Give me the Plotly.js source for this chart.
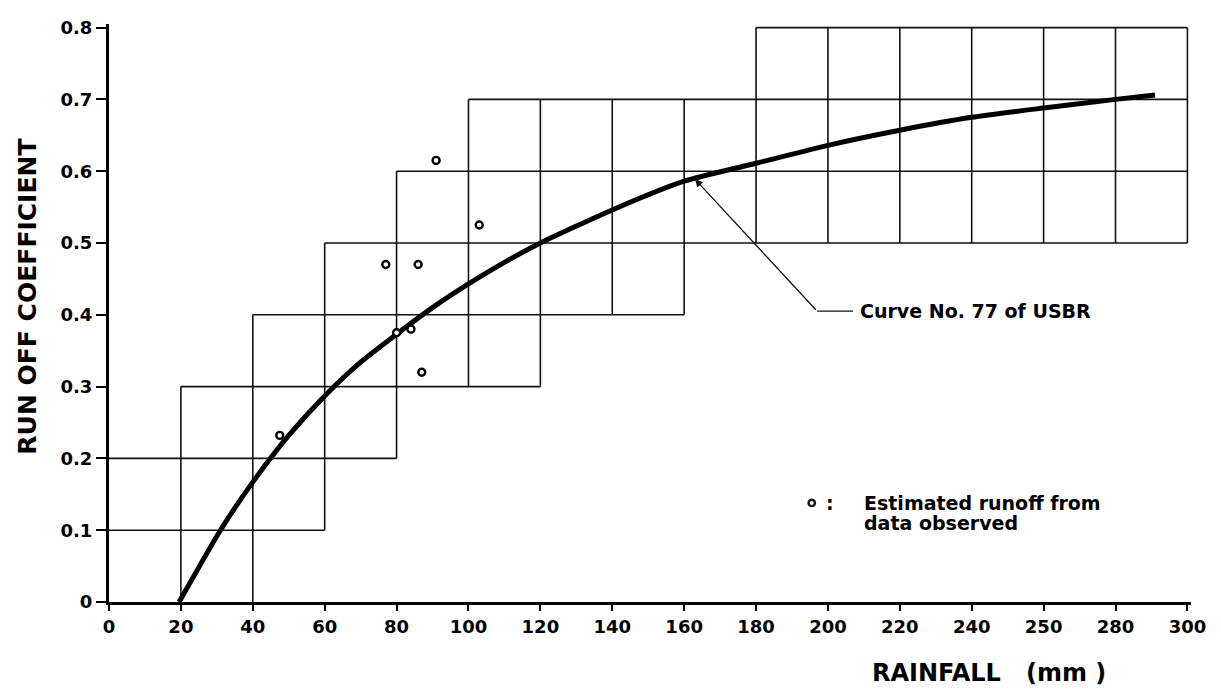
<!DOCTYPE html>
<html>
<head>
<meta charset="utf-8">
<script src="https://cdn.plot.ly/plotly-3.0.1.min.js"></script>
<style>html,body{margin:0;padding:0;background:#fff;}</style>
</head>
<body>
<div id="chart" style="width:1221px;height:695px;"></div>
<script>
// USBR curve No. 77 (rainfall mm -> run off coefficient)
const curveX = [19.5, 31, 40, 50, 60, 70, 80, 90, 100, 110, 120, 140, 160, 180, 200, 220, 240, 260, 280, 291];
const curveY = [0, 0.1, 0.167, 0.232, 0.287, 0.334, 0.373, 0.41, 0.443, 0.473, 0.5, 0.546, 0.586, 0.611, 0.636, 0.657, 0.675, 0.688, 0.7, 0.706];

// Estimated runoff from data observed
const obsX = [47.5, 77, 80, 84, 86, 87, 91, 103];
const obsY = [0.232, 0.47, 0.375, 0.38, 0.47, 0.32, 0.615, 0.525];

// Step grid (horizontal segments)
const hY  = [0.1, 0.2, 0.3, 0.4, 0.5, 0.6, 0.7, 0.8];
const hX0 = [0, 0, 20, 40, 60, 80, 100, 180];
const hX1 = [60, 80, 120, 160, 300, 300, 300, 300];
// Step grid (vertical segments)
const vX  = [20, 40, 60, 80, 100, 120, 140, 160, 180, 200, 220, 240, 260, 280, 300];
const vY0 = [0, 0, 0.1, 0.2, 0.3, 0.3, 0.4, 0.4, 0.5, 0.5, 0.5, 0.5, 0.5, 0.5, 0.5];
const vY1 = [0.3, 0.4, 0.5, 0.6, 0.7, 0.7, 0.7, 0.7, 0.8, 0.8, 0.8, 0.8, 0.8, 0.8, 0.8];

// Ticks
const xTickVals = [0, 20, 40, 60, 80, 100, 120, 140, 160, 180, 200, 220, 240, 260, 280, 300];
const xTickText = ["0", "20", "40", "60", "80", "100", "120", "140", "160", "180", "200", "220", "240", "250", "280", "300"];
const yTickVals = [0, 0.1, 0.2, 0.3, 0.4, 0.5, 0.6, 0.7, 0.8];
const yTickText = ["0", "0.1", "0.2", "0.3", "0.4", "0.5", "0.6", "0.7", "0.8"];

// Annotation anchor values
const curveLabel = "Curve No. 77 of USBR";
const arrowTip = [163, 0.589];
const arrowTail = [197, 0.405];
const labelLineEnd = 207;
const legendLine1 = "Estimated runoff from";
const legendLine2 = "data observed";

const FONT = "DejaVu Sans, Liberation Sans, Arial, sans-serif";

const shapes = [];
for (let i = 0; i < hY.length; i++) {
  shapes.push({type: "line", xref: "x", yref: "y", x0: hX0[i], x1: hX1[i], y0: hY[i], y1: hY[i],
               line: {color: "#111", width: 1.6}, layer: "below"});
}
for (let i = 0; i < vX.length; i++) {
  shapes.push({type: "line", xref: "x", yref: "y", x0: vX[i], x1: vX[i], y0: vY0[i], y1: vY1[i],
               line: {color: "#111", width: 1.6}, layer: "below"});
}
// short horizontal leader for curve label
shapes.push({type: "line", xref: "x", yref: "y", x0: arrowTail[0], x1: labelLineEnd, y0: arrowTail[1], y1: arrowTail[1],
             line: {color: "#111", width: 1.3}});
// legend symbol
shapes.push({type: "circle", xref: "x", yref: "y", xsizemode: "pixel", ysizemode: "pixel",
             xanchor: 195.5, yanchor: 0.138, x0: -3.2, x1: 3.2, y0: -3.2, y1: 3.2,
             line: {color: "#111", width: 2.4}, fillcolor: "#fff"});

const traces = [
  {x: curveX, y: curveY, type: "scatter", mode: "lines", line: {color: "#000", width: 5, shape: "spline", smoothing: 0.6},
   name: "Curve No. 77 of USBR", hoverinfo: "x+y"},
  {x: obsX, y: obsY, type: "scatter", mode: "markers", name: "Estimated runoff from data observed",
   marker: {symbol: "circle", size: 7, color: "#fff", line: {color: "#000", width: 2.4}}}
];

const layout = {
  width: 1221, height: 695,
  paper_bgcolor: "#fff", plot_bgcolor: "#fff",
  margin: {l: 109, r: 30, t: 24, b: 93},
  showlegend: false,
  font: {family: FONT, color: "#000"},
  xaxis: {
    range: [0, 301], tickvals: xTickVals, ticktext: xTickText,
    showline: true, linecolor: "#000", linewidth: 3, mirror: false,
    ticks: "outside", ticklen: 6, tickwidth: 2, tickcolor: "#000",
    showgrid: false, zeroline: false,
    tickfont: {family: FONT, size: 18, color: "#000", weight: "bold"}
  },
  yaxis: {
    range: [0, 0.805], tickvals: yTickVals, ticktext: yTickText,
    showline: true, linecolor: "#000", linewidth: 3,
    ticks: "outside", ticklen: 10, tickwidth: 2, tickcolor: "#000",
    showgrid: false, zeroline: false,
    tickfont: {family: FONT, size: 18, color: "#000", weight: "bold"}
  },
  shapes: shapes,
  annotations: [
    {xref: "paper", yref: "paper", x: -0.075, y: 0.528, xanchor: "center", yanchor: "middle",
     text: "RUN OFF COEFFICIENT", textangle: -90,
     showarrow: false, font: {family: FONT, size: 25, weight: "bold", color: "#000"}},
    {xref: "paper", yref: "paper", x: 0.813, y: -0.123, xanchor: "center", yanchor: "middle",
     text: "RAINFALL\u00a0\u00a0\u00a0(mm\u00a0)",
     showarrow: false, font: {family: FONT, size: 24, weight: "bold", color: "#000"}},
    {xref: "x", yref: "y", axref: "x", ayref: "y", x: arrowTip[0], y: arrowTip[1], ax: arrowTail[0], ay: arrowTail[1],
     text: "", showarrow: true, arrowhead: 2, arrowsize: 1.2, arrowwidth: 1.3, arrowcolor: "#111"},
    {xref: "x", yref: "y", x: labelLineEnd + 1.5, y: arrowTail[1], xanchor: "left", yanchor: "middle",
     text: curveLabel, showarrow: false, font: {family: FONT, size: 19, weight: "bold", color: "#000"}},
    {xref: "x", yref: "y", x: 200.5, y: 0.138, xanchor: "center", yanchor: "middle", text: ":",
     showarrow: false, font: {family: FONT, size: 19, weight: "bold", color: "#000"}},
    {xref: "x", yref: "y", x: 209.5, y: 0.138, xanchor: "left", yanchor: "middle", text: legendLine1,
     showarrow: false, font: {family: FONT, size: 19, weight: "bold", color: "#000"}},
    {xref: "x", yref: "y", x: 209.5, y: 0.11, xanchor: "left", yanchor: "middle", text: legendLine2,
     showarrow: false, font: {family: FONT, size: 19, weight: "bold", color: "#000"}}
  ]
};

Plotly.newPlot("chart", traces, layout, {displayModeBar: false, staticPlot: true});
</script>
</body>
</html>
